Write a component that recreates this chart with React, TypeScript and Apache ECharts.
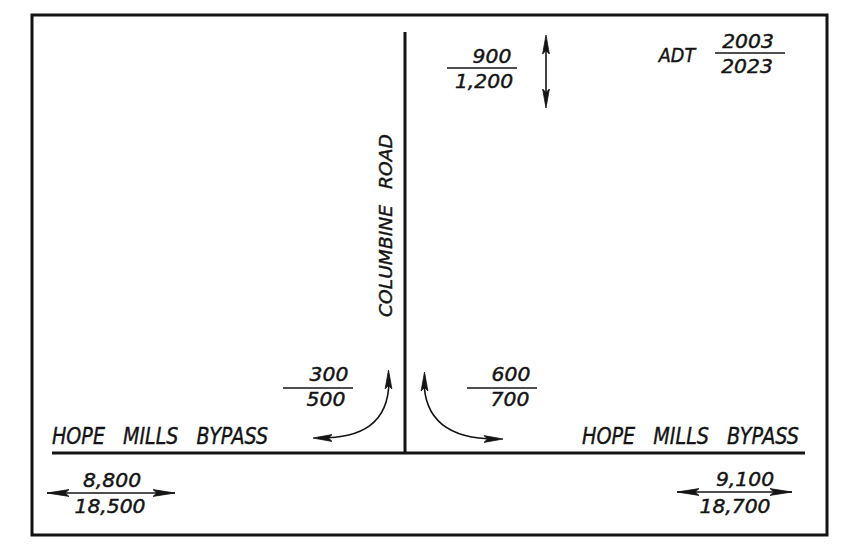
import React, { useEffect, useRef } from "react";
import * as echarts from "echarts";

// ---- data ----
const years = ["2003", "2023"];
const movements = ["Columbine Rd (north leg)", "Left turn onto Columbine", "Right turn onto Columbine", "Hope Mills Bypass (west)", "Hope Mills Bypass (east)"];
const adt2003 = [900, 300, 600, 8800, 9100];
const adt2023 = [1200, 500, 700, 18500, 18700];
const roadNames = ["COLUMBINE ROAD", "HOPE MILLS BYPASS"];
const legendLabel = "ADT";

// ---- layout (positions only) ----
const FONT = "'DejaVu Sans', 'Liberation Sans', sans-serif";
const INK = "#141414";

const movementLayout = [
  { top: [492, 57], bot: [484, 82], line: [447, 517, 68] },
  { top: [329, 375], bot: [326, 400], line: [283, 353, 388] },
  { top: [511, 375], bot: [510, 400], line: [467, 537, 388] },
  { top: [112, 481], bot: [110, 507], line: [47, 175, 493] },
  { top: [745, 480], bot: [735, 507], line: [677, 792, 492] },
];

let measureCtx: CanvasRenderingContext2D | null = null;
function measure(s: string, size: number): number {
  if (!measureCtx) measureCtx = document.createElement("canvas").getContext("2d");
  if (!measureCtx) return s.length * size * 0.6;
  measureCtx.font = `italic ${size}px ${FONT}`;
  return measureCtx.measureText(s).width;
}

function textEl(s: string, x: number, y: number, size: number, scaleX: number, align: string, rotation = 0, sw = 0.45) {
  return {
    type: "text",
    x,
    y,
    rotation,
    scaleX,
    silent: true,
    style: {
      text: s,
      x: 0,
      y: 0,
      fontSize: size,
      fontFamily: FONT,
      fontStyle: "italic",
      fill: INK,
      stroke: INK,
      lineWidth: sw,
      align,
      verticalAlign: "middle",
      textAlign: align,
      textVerticalAlign: "middle",
    },
  };
}

// words laid out in sequence between start and end with a fixed gap, uniform scale
function phrase(words: string[], start: number, end: number, gap: number, cross: number, cap: number, vertical = false) {
  const size = cap / 0.73;
  const widths = words.map((w) => measure(w, size));
  const total = widths.reduce((a, b) => a + b, 0);
  const dir = vertical ? -1 : 1;
  const span = Math.abs(end - start) - gap * (words.length - 1);
  const s = span / total;
  const out: any[] = [];
  let pos = start;
  words.forEach((w, i) => {
    out.push(
      vertical
        ? textEl(w, cross, pos, size, s, "left", Math.PI / 2, 0.4)
        : textEl(w, pos, cross, size, s, "left", 0, 0.4)
    );
    pos += dir * (widths[i] * s + gap);
  });
  return out;
}

const NUM_CAP = 14;
const NUM_SCALE = 1.06;
function num(s: string, cx: number, cy: number) {
  return textEl(s, cx, cy, NUM_CAP / 0.73, NUM_SCALE, "center");
}

function line(x1: number, y1: number, x2: number, y2: number, w: number) {
  return { type: "line", silent: true, shape: { x1, y1, x2, y2 }, style: { stroke: INK, lineWidth: w, lineCap: "butt" } };
}

function head(tx: number, ty: number, dx: number, dy: number, L = 19, hw = 3.4) {
  const n = Math.hypot(dx, dy);
  const ux = dx / n, uy = dy / n;
  const px = -uy, py = ux;
  const bx = tx - ux * L, by = ty - uy * L;
  return {
    type: "polygon",
    silent: true,
    shape: {
      points: [
        [tx, ty],
        [bx + px * hw, by + py * hw],
        [tx - ux * L * 0.82, ty - uy * L * 0.82],
        [bx - px * hw, by - py * hw],
      ],
    },
    style: { fill: INK, stroke: INK, lineWidth: 0.8 },
  };
}

function fmt(v: number) {
  return v.toLocaleString("en-US");
}

export default function App() {
  const ref = useRef<HTMLDivElement>(null);
  useEffect(() => {
    document.body.style.margin = "0";
    if (!ref.current) return;
    const chart = echarts.init(ref.current, null, { renderer: "svg" });
    const els: any[] = [];

    // border
    els.push({ type: "rect", silent: true, shape: { x: 32, y: 15, width: 795, height: 520 }, style: { fill: "none", stroke: INK, lineWidth: 3 } });
    // roads
    els.push(line(405, 32, 405, 454, 3));
    els.push(line(52, 453, 805, 453, 3));

    // road names
    els.push(...phrase(roadNames[0].split(" "), 317, 134, 16, 386, 13.5, true));
    const hopeWords = roadNames[1].split(" ");
    els.push(...phrase(hopeWords, 52, 268, 18, 436, 17));
    els.push(...phrase(hopeWords, 582, 799, 18, 436, 17));

    // legend
    els.push(textEl(legendLabel, 677, 55, NUM_CAP / 0.73, 0.92, "center"));
    els.push(num(years[0], 748, 42));
    els.push(line(715, 53, 785, 53, 1.5));
    els.push(num(years[1], 747, 67));

    // movement volumes
    movements.forEach((_, i) => {
      const L = movementLayout[i];
      els.push(num(fmt(adt2003[i]), L.top[0], L.top[1]));
      els.push(num(fmt(adt2023[i]), L.bot[0], L.bot[1]));
      els.push(line(L.line[0], L.line[2], L.line[1], L.line[2], 1.5));
    });

    // two-way arrow on the north leg
    els.push(line(546, 40, 546, 104, 1.6));
    els.push(head(546, 35, 0, -1));
    els.push(head(546, 108, 0, 1));

    // two-way arrows on bypass fraction lines
    els.push(head(47, 493, -1, 0, 22));
    els.push(head(175, 493, 1, 0, 22));
    els.push(head(677, 492, -1, 0, 22));
    els.push(head(792, 492, 1, 0, 22));

    // turning movement curves
    els.push({
      type: "bezierCurve",
      silent: true,
      shape: { x1: 389, y1: 380, cpx1: 389, cpy1: 425, cpx2: 360, cpy2: 438, x2: 320, y2: 438 },
      style: { stroke: INK, lineWidth: 1.6, fill: "none" },
    });
    els.push(head(388.5, 370, 0, -1));
    els.push(head(313, 438, -1, 0));
    els.push({
      type: "bezierCurve",
      silent: true,
      shape: { x1: 424, y1: 380, cpx1: 424, cpy1: 425, cpx2: 455, cpy2: 439, x2: 496, y2: 439 },
      style: { stroke: INK, lineWidth: 1.6, fill: "none" },
    });
    els.push(head(424.5, 372, 0, -1));
    els.push(head(503, 439, 1, 0));

    chart.setOption({
      animation: false,
      backgroundColor: "#ffffff",
      graphic: { elements: els },
    });
    return () => chart.dispose();
  }, []);
  return <div ref={ref} style={{ width: 850, height: 555 }} />;
}
